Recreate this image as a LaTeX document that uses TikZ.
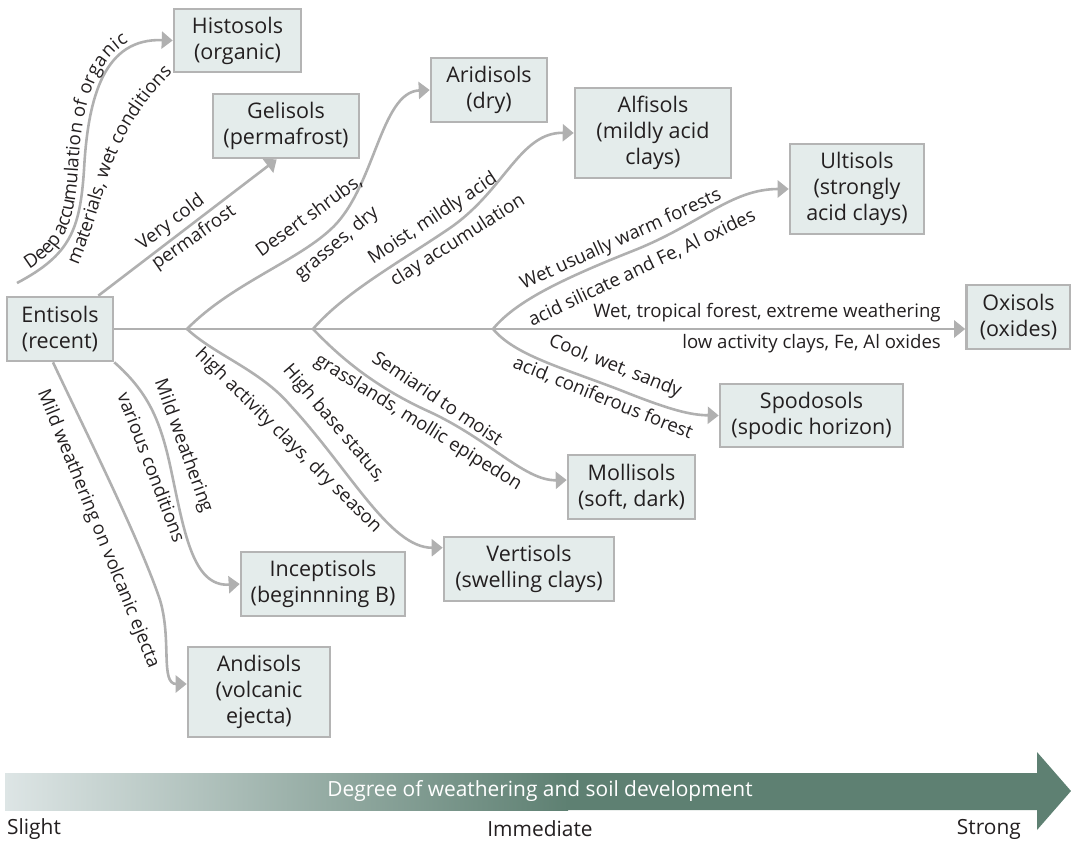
\documentclass[tikz,border=0pt]{standalone}
\usepackage{fontspec}
\setmainfont{Open Sans}
\usetikzlibrary{arrows.meta,calc,decorations.text}
\definecolor{boxfill}{HTML}{E4ECEB}
\definecolor{boxline}{HTML}{B4B4B4}
\definecolor{linegray}{HTML}{B0B0B0}
\definecolor{txt}{HTML}{231F20}
\definecolor{barlight}{HTML}{DDE5E5}
\definecolor{bardark}{HTML}{5E8072}
\newcommand{\lblfont}{\fontsize{18.6}{21}\selectfont}
\newcommand{\boxfont}{\fontsize{21.5}{26}\selectfont}
\newcommand{\barfont}{\fontsize{20.9}{24}\selectfont}
\begin{document}
\begin{tikzpicture}[x=1pt,y=-1pt,
  soil/.style={draw=boxline, line width=2.6pt, fill=boxfill, text=txt, align=center, font=\boxfont, inner sep=0pt},
  conn/.style={draw=linegray, line width=2.6pt, -{Triangle[length=11pt,width=17pt]}},
  lbl/.style={text=txt, font=\lblfont, inner sep=0pt},
  curvelbl/.style={decorate, decoration={text along path, text color=txt, #1}}]
\useasboundingbox (0,0) rectangle (1071,841);

% boxes
\node[soil, minimum width=106pt, minimum height=64pt] (Entisols) at (60,329) {Entisols\\(recent)};
\node[soil, minimum width=127pt, minimum height=63pt] (Histosols) at (237.5,40.5) {Histosols\\(organic)};
\node[soil, minimum width=146pt, minimum height=64pt] (Gelisols) at (286,126) {Gelisols\\(permafrost)};
\node[soil, minimum width=116pt, minimum height=64pt] (Aridisols) at (489,90) {Aridisols\\(dry)};
\node[soil, minimum width=156pt, minimum height=90pt] (Alfisols) at (653,133) {Alfisols\\(mildly acid\\clays)};
\node[soil, minimum width=134pt, minimum height=90pt] (Ultisols) at (857,189) {Ultisols\\(strongly\\acid clays)};
\node[soil, minimum width=104pt, minimum height=64pt] (Oxisols) at (1018.5,317) {Oxisols\\(oxides)};
\node[soil, minimum width=183pt, minimum height=63pt] (Spodosols) at (811.5,415.5) {Spodosols\\(spodic horizon)};
\node[soil, minimum width=127pt, minimum height=64pt] (Mollisols) at (631.5,487) {Mollisols\\(soft, dark)};
\node[soil, minimum width=170pt, minimum height=64pt] (Vertisols) at (529,569) {Vertisols\\(swelling clays)};
\node[soil, minimum width=164pt, minimum height=64pt] (Inceptisols) at (323,584) {Inceptisols\\(beginnning B)};
\node[soil, minimum width=142pt, minimum height=90pt] (Andisols) at (259,692) {Andisols\\(volcanic\\ejecta)};

% branch points
\coordinate (b1) at (187,329);
\coordinate (b2) at (313,329);
\coordinate (b3) at (493,329);
\coordinate (h0) at (17,283);

% connectors
\draw[conn] (Entisols.east) -- (Entisols.east -| Oxisols.west);
\draw[conn] (h0) .. controls (70,255) and (80,230) .. (84,170) .. controls (88,95) and (105,38) .. (Histosols.west);
\draw[conn] ($(Entisols.north east)+(-16,0)$) -- ($(Gelisols.south west)+(65,0)$);
\draw[conn] (b1) .. controls (230,285) and (295,262) .. (330,230) .. controls (375,190) and (380,92) .. (Aridisols.west);
\draw[conn] (b2) .. controls (345,292) and (400,262) .. (450,228) .. controls (505,190) and (520,132) .. (Alfisols.west);
\draw[conn] (b3) .. controls (515,302) and (560,280) .. (630,252) .. controls (700,225) and (730,189) .. (Ultisols.west);
\draw[conn] (b3) .. controls (515,355) and (560,367) .. (620,390) .. controls (670,410) and (690,415) .. (Spodosols.west);
\draw[conn] (b2) .. controls (335,352) and (370,385) .. (430,412) .. controls (490,440) and (525,481) .. ($(Mollisols.west)+(0,-7)$);
\draw[conn] (b1) .. controls (215,355) and (260,370) .. (290,405) .. controls (350,470) and (390,548) .. ($(Vertisols.north west)+(0,12)$);
\draw[conn] (Entisols.south east) .. controls (148,392) and (160,420) .. (170,465) .. controls (184,530) and (192,587) .. (Inceptisols.west);
\draw[conn] ($(Entisols.south)+(-7,0)$) .. controls (80,420) and (140,540) .. (160,600) .. controls (172,640) and (160,684) .. ($(Andisols.west)+(0,-8)$);

% curved labels (Histosols)
\path[curvelbl={text={|\lblfont|Deep accumulation of organic}, raise=6pt, text align={left indent=18pt}}]
  (h0) .. controls (70,255) and (80,230) .. (84,170) .. controls (88,95) and (105,38) .. (172,38);
\path[curvelbl={text={|\lblfont|materials, wet conditions}}]
  (78,265) .. controls (97,220) and (105,180) .. (115,158) .. controls (129,125) and (148,88) .. (215,35);

% straight labels
\node[lbl, rotate=37] (lVery) at (171,223) {Very cold};
\node[lbl, rotate=35] (lPerma) at (194,238) {permafrost};
\node[lbl, rotate=36] (lDesert) at (309,216) {Desert shrubs,};
\node[lbl, rotate=40] (lGrass) at (337,244) {grasses, dry};
\node[lbl, rotate=33.5] (lMoist) at (433,219) {Moist, mildly acid};
\node[lbl, rotate=32.5] (lClay) at (458,241) {clay accumulation};
\node[lbl, rotate=24.5] (lWetU) at (621,240) {Wet usually warm forests};
\node[lbl, rotate=25.5] (lAcidS) at (642,268) {acid silicate and Fe, Al oxides};
\node[lbl] (lWetT) at (767,313) {Wet, tropical forest, extreme weathering};
\node[lbl, anchor=east] (lLow) at (941,344) {low activity clays, Fe, Al oxides};
\node[lbl, rotate=-21.6] (lCool) at (615,367) {Cool, wet, sandy};
\node[lbl, rotate=-22] (lAcidC) at (603,398) {acid, coniferous forest};
\node[lbl, rotate=-34] (lSemi) at (438,398) {Semiarid to moist};
\node[lbl, rotate=-32] (lGrassl) at (418,423) {grasslands, mollic epipedon};
\node[lbl, rotate=-49.5] (lHigh) at (334,424) {High base status,};
\node[lbl, rotate=-44.7] (lHighA) at (288,441) {high activity clays, dry season};
\node[lbl, rotate=-70] (lMild) at (183,446) {Mild weathering};
\node[lbl, rotate=-69] (lVar) at (152,467) {various conditions};
\node[lbl, rotate=-68] (lVolc) at (98,529) {Mild weathering on volcanic ejecta};

% bottom arrow
\shade[left color=barlight, right color=bardark] (5,773) rectangle (568,810);
\fill[bardark] (567,773) -- (1037,773) -- (1037,752) -- (1071,791) -- (1037,830) -- (1037,810) -- (567,810) -- cycle;
\node[text=white, font=\barfont, inner sep=0pt] (barText) at (540,791) {Degree of weathering and soil development};
\node[lbl, font=\barfont, anchor=west] (slight) at (7,829) {Slight};
\node[lbl, font=\barfont] (immediate) at (540,829) {Immediate};
\node[lbl, font=\barfont, anchor=east] (strong) at (1021,829) {Strong};
\end{tikzpicture}
\end{document}
